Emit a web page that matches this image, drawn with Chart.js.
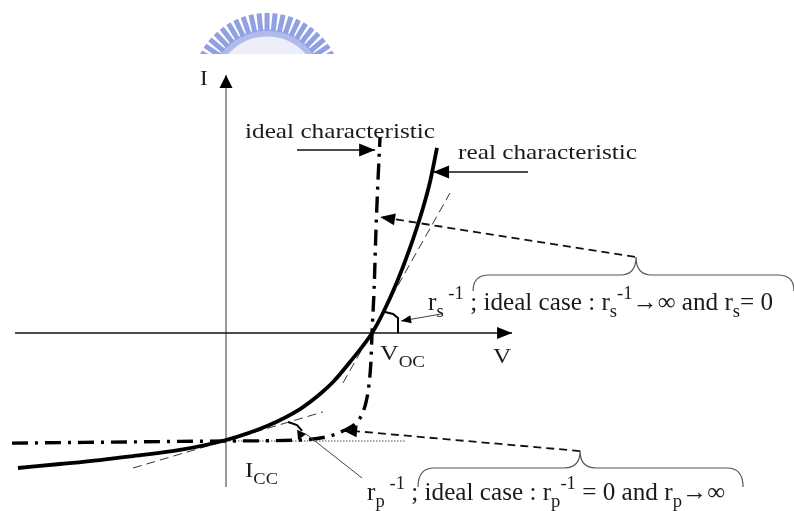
<!DOCTYPE html>
<html>
<head>
<meta charset="utf-8">
<script src="https://cdn.jsdelivr.net/npm/chart.js@4"></script>
<style>
  html, body { margin: 0; padding: 0; background: #fff; }
  canvas { display: block; }
</style>
</head>
<body>
<canvas id="iv" width="794" height="511"></canvas>
<script>
// normalised units: V / Voc and I / |Icc|
const realV  = [-1.425, -1.137, -0.863, -0.637, -0.315, 0.0, 0.281, 0.507, 0.644, 0.733, 0.849, 1.0, 1.075, 1.171, 1.26, 1.349, 1.397, 1.445];
const realI  = [-1.25, -1.213, -1.176, -1.139, -1.083, -0.991, -0.861, -0.704, -0.565, -0.454, -0.269, 0, 0.185, 0.472, 0.787, 1.157, 1.398, 1.713];
const idealV = [-1.466, 0, 0.507, 0.712, 0.815, 0.89, 0.932, 0.959, 0.979, 0.993, 1.0, 1.014, 1.027, 1.041, 1.055];
const idealI = [-1.02, -1.0, -0.99, -0.954, -0.898, -0.833, -0.75, -0.639, -0.481, -0.25, 0, 0.398, 0.954, 1.417, 1.815];
// tangents at Voc (series) and at Icc (shunt)
const seriesV = [0.801, 1.534];
const seriesI = [-0.463, 1.296];
const shuntV  = [-0.637, 0.664];
const shuntI  = [-1.25, -0.731];
const iccV = [0, 1.233];
const iccI = [-1.0, -1.0];
// axes
const vAxisV = [-1.445, 1.959];
const vAxisI = [0, 0];
const iAxisV = [0, 0];
const iAxisI = [-1.426, 2.389];

const pts = (xs, ys) => xs.map((x, k) => ({ x: x, y: ys[k] }));

const FONT = '"Liberation Serif", "Times New Roman", serif';
const INK = '#1b1b1b';

function rich(ctx, parts, x, y, size, width) {
  const fontOf = m => (m ? size * 0.74 : size) + 'px ' + FONT;
  let nat = 0;
  parts.forEach(([t, m]) => { ctx.font = fontOf(m); nat += ctx.measureText(t).width; });
  const sx = width ? width / nat : 1.15;
  ctx.save();
  ctx.translate(x, y);
  ctx.scale(sx, 1);
  ctx.fillStyle = INK;
  ctx.textBaseline = 'alphabetic';
  let cx = 0;
  parts.forEach(([t, m]) => {
    ctx.font = fontOf(m);
    const dy = m === 'sub' ? size * 0.3 : m === 'sup' ? -size * 0.42 : 0;
    ctx.fillText(t, cx, dy);
    cx += ctx.measureText(t).width;
  });
  ctx.restore();
}

function head(ctx, from, tip, len, half) {
  const a = Math.atan2(tip[1] - from[1], tip[0] - from[0]);
  ctx.save();
  ctx.translate(tip[0], tip[1]);
  ctx.rotate(a);
  ctx.beginPath();
  ctx.moveTo(0, 0);
  ctx.lineTo(-len, -half);
  ctx.lineTo(-len, half);
  ctx.closePath();
  ctx.fillStyle = '#000';
  ctx.fill();
  ctx.restore();
}

function brace(ctx, P, b) {
  const [x1, yEnd] = P(b.left, b.end);
  const [x2] = P(b.right, b.end);
  const [xt, yTip] = P(b.tip, b.top);
  const [, yl] = P(b.left, b.line);
  const r = 16;
  ctx.save();
  ctx.strokeStyle = '#555';
  ctx.lineWidth = 1.2;
  ctx.beginPath();
  ctx.moveTo(x1, yEnd);
  ctx.quadraticCurveTo(x1, yl, x1 + r, yl);
  ctx.lineTo(xt - r, yl);
  ctx.quadraticCurveTo(xt, yl, xt, yTip);
  ctx.quadraticCurveTo(xt, yl, xt + r, yl);
  ctx.lineTo(x2 - r, yl);
  ctx.quadraticCurveTo(x2, yl, x2, yEnd);
  ctx.stroke();
  ctx.restore();
}

const figure = {
  id: 'figure',
  beforeDatasetsDraw(chart) {
    // university seal, cut off at the top of the page
    const ctx = chart.ctx;
    const cx = chart.scales.x.getPixelForValue(0.281);
    const cy = chart.scales.y.getPixelForValue(2.269);
    const clipY = chart.scales.y.getPixelForValue(2.583);
    ctx.save();
    ctx.beginPath();
    ctx.rect(0, 0, chart.width, clipY);
    ctx.clip();
    ctx.fillStyle = 'rgb(236,239,250)';
    ctx.beginPath();
    ctx.arc(cx, cy, 52, 0, Math.PI * 2);
    ctx.fill();
    ctx.strokeStyle = 'rgb(175,187,235)';
    ctx.lineWidth = 7;
    ctx.beginPath();
    ctx.arc(cx, cy, 55, 0, Math.PI * 2);
    ctx.stroke();
    ctx.strokeStyle = 'rgb(145,160,226)';
    ctx.lineWidth = 5;
    for (let k = -10; k <= 10; k++) {
      const a = k * 6.2 * Math.PI / 180;
      ctx.beginPath();
      ctx.moveTo(cx + 57 * Math.sin(a), cy - 57 * Math.cos(a));
      ctx.lineTo(cx + 75 * Math.sin(a), cy - 75 * Math.cos(a));
      ctx.stroke();
    }
    ctx.restore();
  },
  afterDatasetsDraw(chart) {
    const ctx = chart.ctx;
    const P = (v, i) => [chart.scales.x.getPixelForValue(v), chart.scales.y.getPixelForValue(i)];
    const dx = (a, b) => chart.scales.x.getPixelForValue(b) - chart.scales.x.getPixelForValue(a);

    // axis arrows
    head(ctx, P(vAxisV[0], 0), P(vAxisV[1], 0), 15, 6);
    head(ctx, P(0, iAxisI[0]), P(0, iAxisI[1]), 13, 6.5);

    // label arrows
    ctx.save();
    ctx.strokeStyle = '#111';
    ctx.lineWidth = 1.4;
    [[[0.486, 1.694], [1.021, 1.694]], [[2.068, 1.491], [1.418, 1.491]]].forEach(([a, b]) => {
      const p = P(a[0], a[1]), q = P(b[0], b[1]);
      ctx.beginPath(); ctx.moveTo(p[0], p[1]); ctx.lineTo(q[0], q[1]); ctx.stroke();
      head(ctx, p, q, 16, 6.5);
    });
    ctx.restore();

    // dashed pointers from the braces
    ctx.save();
    ctx.strokeStyle = '#111';
    ctx.lineWidth = 1.8;
    ctx.setLineDash([8, 5]);
    [[[2.801, 0.704], [1.055, 1.074]], [[2.425, -1.093], [0.795, -0.898]]].forEach(([a, b]) => {
      const p = P(a[0], a[1]), q = P(b[0], b[1]);
      ctx.beginPath(); ctx.moveTo(p[0], p[1]); ctx.lineTo(q[0], q[1]); ctx.stroke();
      head(ctx, p, q, 15, 6);
    });
    ctx.restore();

    brace(ctx, P, { left: 1.692, right: 3.89, tip: 2.808, line: 0.537, end: 0.389, top: 0.704 });
    brace(ctx, P, { left: 1.315, right: 3.541, tip: 2.425, line: -1.25, end: -1.426, top: -1.093 });

    // angle markers
    ctx.save();
    ctx.strokeStyle = '#000';
    ctx.lineWidth = 2;
    ctx.beginPath();
    [[1.089, 0.194], [1.144, 0.176], [1.178, 0.139], [1.178, 0]].forEach(([v, i], k) => {
      const p = P(v, i); k ? ctx.lineTo(p[0], p[1]) : ctx.moveTo(p[0], p[1]);
    });
    ctx.stroke();
    ctx.beginPath();
    [[0.425, -0.824], [0.486, -0.852], [0.521, -0.907]].forEach(([v, i], k) => {
      const p = P(v, i); k ? ctx.lineTo(p[0], p[1]) : ctx.moveTo(p[0], p[1]);
    });
    ctx.stroke();
    head(ctx, P(0.521, -0.907), P(0.493, -0.991), 9, 5);
    ctx.strokeStyle = '#444';
    ctx.lineWidth = 1;
    let p = P(1.473, 0.176), q = P(1.199, 0.111);
    ctx.beginPath(); ctx.moveTo(p[0], p[1]); ctx.lineTo(q[0], q[1]); ctx.stroke();
    head(ctx, p, q, 10, 4);
    p = P(0.932, -1.343); q = P(0.548, -0.935);
    ctx.beginPath(); ctx.moveTo(p[0], p[1]); ctx.lineTo(q[0], q[1]); ctx.stroke();
    ctx.restore();

    // labels
    let t = P(-0.178, 2.296);
    rich(ctx, [['I']], t[0], t[1], 20);
    t = P(0.13, 1.806);
    rich(ctx, [['ideal characteristic']], t[0], t[1], 22, dx(0.13, 1.431));
    t = P(1.589, 1.611);
    rich(ctx, [['real characteristic']], t[0], t[1], 22, dx(1.589, 2.815));
    t = P(1.384, 0.213);
    rich(ctx, [['r'], ['s', 'sub'], [' -1', 'sup'], [' ; ideal case : r'], ['s', 'sub'], ['-1', 'sup'], ['\u2192\u221e and r'], ['s', 'sub'], ['= 0']],
      t[0], t[1], 25, dx(1.384, 3.747));
    t = P(1.055, -0.25);
    rich(ctx, [['V'], ['OC', 'sub']], t[0], t[1], 22, dx(1.055, 1.363));
    t = P(1.829, -0.278);
    rich(ctx, [['V']], t[0], t[1], 22);
    t = P(0.13, -1.333);
    rich(ctx, [['I'], ['CC', 'sub']], t[0], t[1], 22, dx(0.13, 0.356));
    t = P(0.966, -1.546);
    rich(ctx, [['r'], ['p', 'sub'], [' -1', 'sup'], [' ; ideal case : r'], ['p', 'sub'], ['-1', 'sup'], [' = 0 and r'], ['p', 'sub'], ['\u2192\u221e']],
      t[0], t[1], 25, dx(0.966, 3.418));
  }
};

function draw() {
  new Chart(document.getElementById('iv'), {
    type: 'scatter',
    data: {
      datasets: [
        { data: pts(realV, realI), showLine: true, borderColor: '#000', borderWidth: 3.8, cubicInterpolationMode: 'monotone', pointRadius: 0 },
        { data: pts(idealV, idealI), showLine: true, borderColor: '#000', borderWidth: 3.4, borderDash: [16, 7, 3, 7], cubicInterpolationMode: 'monotone', pointRadius: 0 },
        { data: pts(seriesV, seriesI), showLine: true, borderColor: '#333', borderWidth: 1, borderDash: [9, 5], pointRadius: 0 },
        { data: pts(shuntV, shuntI), showLine: true, borderColor: '#333', borderWidth: 1, borderDash: [9, 5], pointRadius: 0 },
        { data: pts(iccV, iccI), showLine: true, borderColor: '#888', borderWidth: 1.5, borderDash: [1.5, 1.5], pointRadius: 0 },
        { data: pts(vAxisV, vAxisI), showLine: true, borderColor: '#111', borderWidth: 1.6, pointRadius: 0 },
        { data: pts(iAxisV, iAxisI), showLine: true, borderColor: '#999', borderWidth: 2, pointRadius: 0 }
      ]
    },
    options: {
      responsive: false,
      animation: false,
      devicePixelRatio: 1,
      layout: { padding: 0 },
      plugins: { legend: { display: false }, tooltip: { enabled: false } },
      scales: {
        x: { type: 'linear', min: -1.548, max: 3.89, display: false },
        y: { type: 'linear', min: -1.648, max: 3.083, display: false }
      }
    },
    plugins: [figure]
  });
}

document.fonts.load('22px "Liberation Serif"').then(draw, draw);
</script>
</body>
</html>
